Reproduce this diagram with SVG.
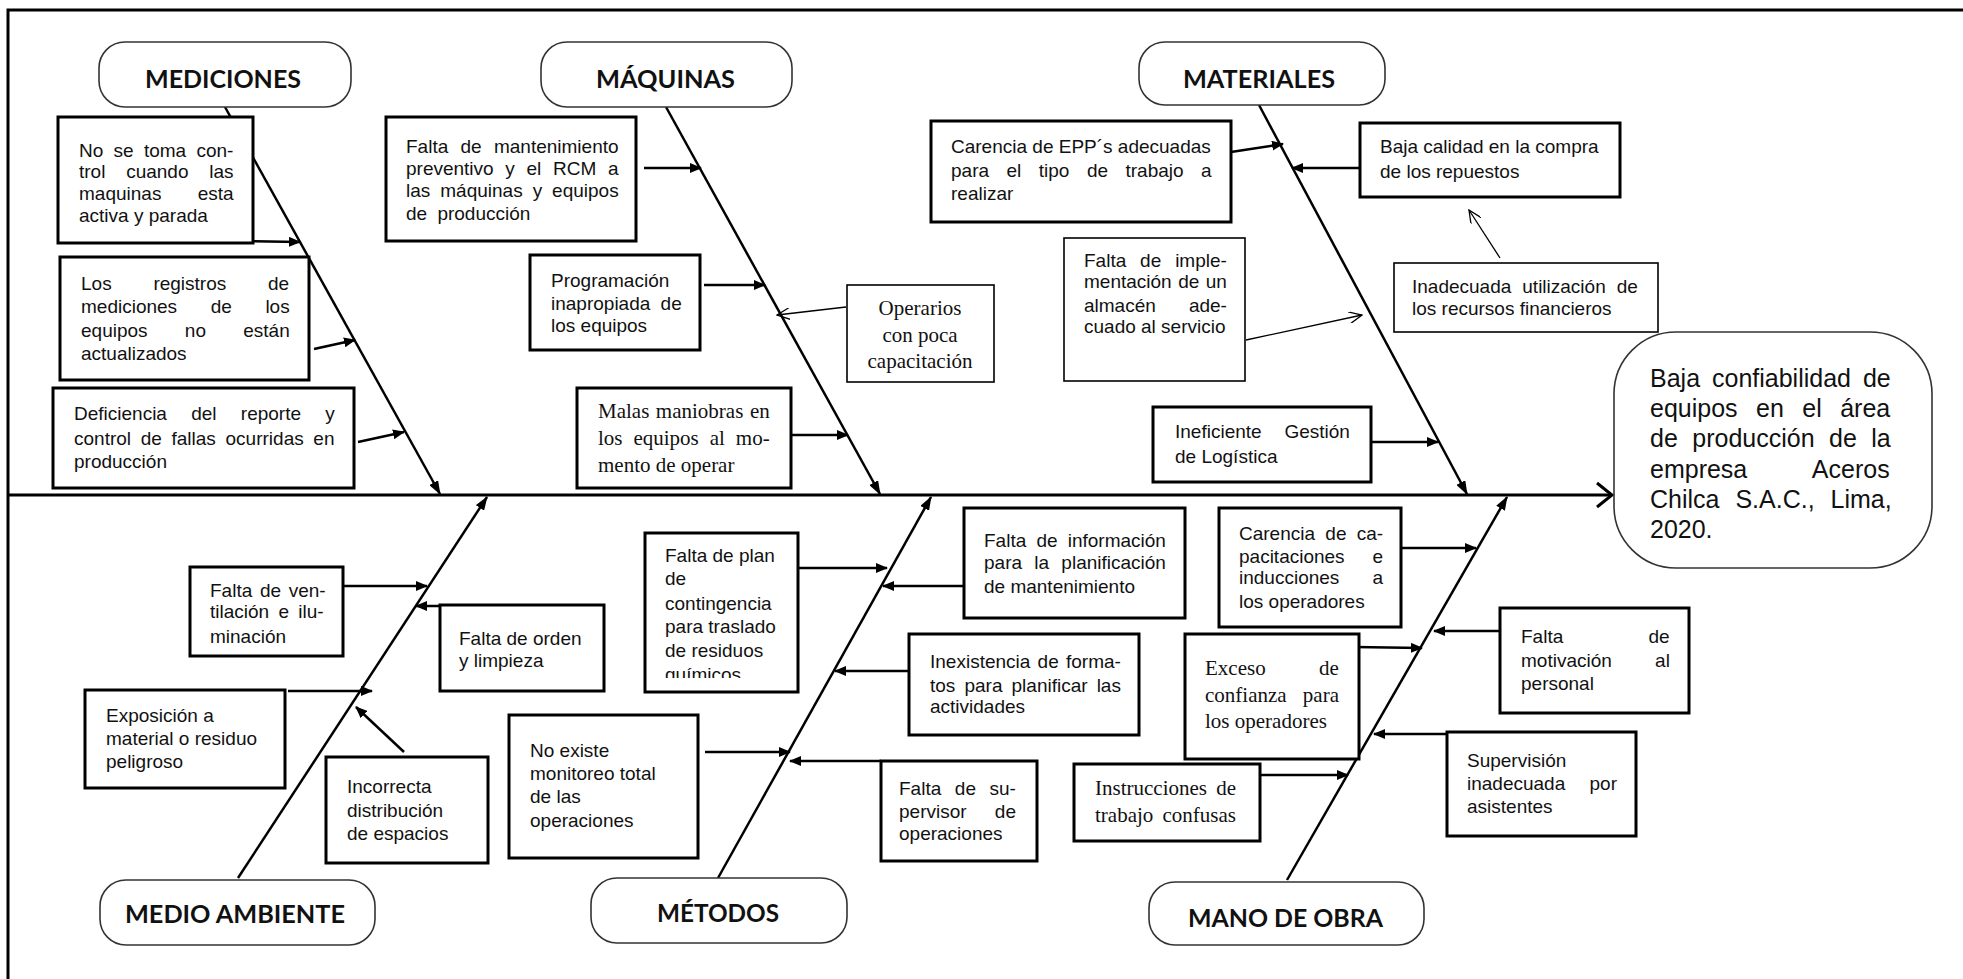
<svg xmlns="http://www.w3.org/2000/svg" width="1963" height="979" viewBox="0 0 1963 979">
<style>
.bg{fill:#fff}
.frame{stroke:#000;stroke-width:3;fill:none}
.cat{fill:#fff;stroke:#333;stroke-width:1.6}
.catt{font-family:Lato,"Liberation Sans",sans-serif;font-weight:bold;font-size:24px;fill:#111}
.box{fill:#fff;stroke:#000;stroke-width:3}
.thin{fill:#fff;stroke:#000;stroke-width:1.6}
.t{font-family:"Liberation Sans",Arial,sans-serif;font-size:19px;fill:#111}
.s{font-family:"Liberation Serif","Times New Roman",serif;font-size:21px;fill:#111}
.h{font-family:"Liberation Sans",Arial,sans-serif;font-size:25px;fill:#111}
.br{stroke:#000;stroke-width:2.5;fill:none;marker-end:url(#ahb)}
.ar{stroke:#000;stroke-width:2.5;fill:none;marker-end:url(#ah)}
.tn{stroke:#000;stroke-width:1.3;fill:none;marker-end:url(#ao)}
</style>
<defs>
<marker id="ahb" viewBox="0 0 14 10" refX="13" refY="5" markerWidth="14" markerHeight="10" markerUnits="userSpaceOnUse" orient="auto"><path d="M0,0 L14,5 L0,10 z" fill="#000"/></marker>
<marker id="ah" viewBox="0 0 12 10" refX="11" refY="5" markerWidth="12" markerHeight="10" markerUnits="userSpaceOnUse" orient="auto"><path d="M0,0 L12,5 L0,10 z" fill="#000"/></marker>
<marker id="ao" viewBox="0 0 14 12" refX="13" refY="6" markerWidth="14" markerHeight="12" markerUnits="userSpaceOnUse" orient="auto"><path d="M0,0 L13,6 L0,12" fill="none" stroke="#000" stroke-width="1.3"/></marker>
<clipPath id="clipMt1"><rect x="645" y="533" width="153" height="145"/></clipPath>
</defs>
<rect class="bg" x="0" y="0" width="1963" height="979"/>
<path class="frame" d="M8,979 L8,10 L1963,10"/>

<g id="connectors">
  <line x1="8" y1="495" x2="1610" y2="495" stroke="#000" stroke-width="3"/>
  <path d="M1597,483 L1612,495 L1597,507" fill="none" stroke="#000" stroke-width="3"/>
  <line class="br" x1="225" y1="107" x2="440" y2="494"/>
  <line class="br" x1="666" y1="107" x2="880" y2="494"/>
  <line class="br" x1="1259" y1="105" x2="1467" y2="494"/>
  <line class="br" x1="238" y1="878" x2="487" y2="497"/>
  <line class="br" x1="718" y1="878" x2="931" y2="497"/>
  <line class="br" x1="1287" y1="880" x2="1507" y2="497"/>
  <line class="ar" x1="238" y1="241" x2="300" y2="242"/>
  <line class="ar" x1="314" y1="349" x2="355" y2="340"/>
  <line class="ar" x1="358" y1="442" x2="404" y2="432"/>
  <line class="ar" x1="644" y1="168" x2="701" y2="168"/>
  <line class="ar" x1="704" y1="285" x2="765" y2="285"/>
  <line class="tn" x1="846" y1="307" x2="777" y2="315"/>
  <line class="ar" x1="792" y1="435" x2="848" y2="435"/>
  <line class="ar" x1="1231" y1="152" x2="1283" y2="144"/>
  <line class="ar" x1="1360" y1="168" x2="1292" y2="168"/>
  <line class="tn" x1="1246" y1="340" x2="1362" y2="315"/>
  <line class="tn" x1="1500" y1="258" x2="1469" y2="210"/>
  <line class="ar" x1="1372" y1="442" x2="1438" y2="442"/>
  <line class="ar" x1="339" y1="586" x2="427" y2="586"/>
  <line class="ar" x1="440" y1="606" x2="416" y2="606"/>
  <line class="ar" x1="288" y1="691" x2="372" y2="691"/>
  <line class="ar" x1="404" y1="752" x2="356" y2="707"/>
  <line class="ar" x1="799" y1="568" x2="887" y2="568"/>
  <line class="ar" x1="963" y1="586" x2="883" y2="586"/>
  <line class="ar" x1="909" y1="671" x2="835" y2="671"/>
  <line class="ar" x1="705" y1="752" x2="790" y2="752"/>
  <line class="ar" x1="881" y1="761" x2="790" y2="761"/>
  <line class="ar" x1="1401" y1="548" x2="1476" y2="548"/>
  <line class="ar" x1="1354" y1="647" x2="1422" y2="648"/>
  <line class="ar" x1="1500" y1="631" x2="1434" y2="631"/>
  <line class="ar" x1="1447" y1="734" x2="1374" y2="734"/>
  <line class="ar" x1="1260" y1="775" x2="1348" y2="775"/>
</g>

<g id="head">
  <rect x="1614" y="332" width="318" height="236" rx="62" ry="62" class="cat"/>
  <text class="h" x="1650" y="387" word-spacing="5">Baja confiabilidad de</text>
  <text class="h" x="1650" y="417" word-spacing="11.5">equipos en el área</text>
  <text class="h" x="1650" y="447" word-spacing="7.5">de producción de la</text>
  <text class="h" x="1650" y="478" word-spacing="59">empresa Aceros</text>
  <text class="h" x="1650" y="508" word-spacing="9">Chilca S.A.C., Lima,</text>
  <text class="h" x="1650" y="538">2020.</text>
</g>

<g id="cat-mediciones">
  <rect class="cat" x="99" y="42" width="252" height="65" rx="26"/>
  <text class="catt" x="145" y="88" textLength="156" lengthAdjust="spacingAndGlyphs">MEDICIONES</text>
</g>
<g id="cat-maquinas">
  <rect class="cat" x="541" y="42" width="251" height="65" rx="26"/>
  <text class="catt" x="596" y="88" textLength="139" lengthAdjust="spacingAndGlyphs">MÁQUINAS</text>
</g>
<g id="cat-materiales">
  <rect class="cat" x="1139" y="42" width="246" height="63" rx="26"/>
  <text class="catt" x="1183" y="88" textLength="152" lengthAdjust="spacingAndGlyphs">MATERIALES</text>
</g>
<g id="cat-medio">
  <rect class="cat" x="100" y="880" width="275" height="65" rx="26"/>
  <text class="catt" x="125" y="923" textLength="220" lengthAdjust="spacingAndGlyphs">MEDIO AMBIENTE</text>
</g>
<g id="cat-metodos">
  <rect class="cat" x="591" y="878" width="256" height="65" rx="26"/>
  <text class="catt" x="657" y="922" textLength="122" lengthAdjust="spacingAndGlyphs">MÉTODOS</text>
</g>
<g id="cat-mano">
  <rect class="cat" x="1149" y="882" width="275" height="63" rx="26"/>
  <text class="catt" x="1188" y="927" textLength="195" lengthAdjust="spacingAndGlyphs">MANO DE OBRA</text>
</g>

<g id="a1">
  <rect class="box" x="58" y="117" width="195" height="126"/>
  <text class="t" x="79" y="157" word-spacing="5">No se toma con-</text>
  <text class="t" x="79" y="178" word-spacing="15.5">trol cuando las</text>
  <text class="t" x="79" y="200" word-spacing="31">maquinas esta</text>
  <text class="t" x="79" y="222">activa y parada</text>
</g>
<g id="a2">
  <rect class="box" x="60" y="257" width="249" height="123"/>
  <text class="t" x="81" y="290" word-spacing="36.5">Los registros de</text>
  <text class="t" x="81" y="313" word-spacing="28.3">mediciones de los</text>
  <text class="t" x="81" y="337" word-spacing="32">equipos no están</text>
  <text class="t" x="81" y="360">actualizados</text>
</g>
<g id="a3">
  <rect class="box" x="53" y="388" width="301" height="100"/>
  <text class="t" x="74" y="420" word-spacing="19">Deficiencia del reporte y</text>
  <text class="t" x="74" y="445" word-spacing="4.4">control de fallas ocurridas en</text>
  <text class="t" x="74" y="468">producción</text>
</g>

<g id="m1">
  <rect class="box" x="386" y="117" width="250" height="124"/>
  <text class="t" x="406" y="153" word-spacing="7">Falta de mantenimiento</text>
  <text class="t" x="406" y="175" word-spacing="6.4">preventivo y el RCM a</text>
  <text class="t" x="406" y="197" word-spacing="4.7">las máquinas y equipos</text>
  <text class="t" x="406" y="220" word-spacing="5">de producción</text>
</g>
<g id="m2">
  <rect class="box" x="530" y="255" width="170" height="95"/>
  <text class="t" x="551" y="287">Programación</text>
  <text class="t" x="551" y="310" word-spacing="5">inapropiada de</text>
  <text class="t" x="551" y="332">los equipos</text>
</g>
<g id="m-operarios">
  <rect class="thin" x="847" y="285" width="147" height="97"/>
  <text class="s" x="920" y="315" text-anchor="middle">Operarios</text>
  <text class="s" x="920" y="342" text-anchor="middle">con poca</text>
  <text class="s" x="920" y="368" text-anchor="middle">capacitación</text>
</g>
<g id="m3">
  <rect class="box" x="577" y="388" width="214" height="100"/>
  <text class="s" x="598" y="418" word-spacing="1.3">Malas maniobras en</text>
  <text class="s" x="598" y="445" word-spacing="5.7">los equipos al mo-</text>
  <text class="s" x="598" y="472">mento de operar</text>
</g>

<g id="t1">
  <rect class="box" x="931" y="121" width="300" height="101"/>
  <text class="t" x="951" y="153">Carencia de EPP´s adecuadas</text>
  <text class="t" x="951" y="177" word-spacing="12.2">para el tipo de trabajo a</text>
  <text class="t" x="951" y="200">realizar</text>
</g>
<g id="t2">
  <rect class="thin" x="1064" y="238" width="181" height="143"/>
  <text class="t" x="1084" y="267" word-spacing="8.6">Falta de imple-</text>
  <text class="t" x="1084" y="288" word-spacing="1.2">mentación de un</text>
  <text class="t" x="1084" y="312" word-spacing="27.8">almacén ade-</text>
  <text class="t" x="1084" y="333">cuado al servicio</text>
</g>
<g id="t3">
  <rect class="box" x="1153" y="407" width="218" height="75"/>
  <text class="t" x="1175" y="438" word-spacing="17.5">Ineficiente Gestión</text>
  <text class="t" x="1175" y="463">de Logística</text>
</g>
<g id="t4">
  <rect class="box" x="1360" y="123" width="260" height="74"/>
  <text class="t" x="1380" y="153">Baja calidad en la compra</text>
  <text class="t" x="1380" y="178">de los repuestos</text>
</g>
<g id="t5">
  <rect class="thin" x="1394" y="263" width="264" height="69"/>
  <text class="t" x="1412" y="293" word-spacing="5.7">Inadecuada utilización de</text>
  <text class="t" x="1412" y="315">los recursos financieros</text>
</g>

<g id="e1">
  <rect class="box" x="190" y="567" width="153" height="89"/>
  <text class="t" x="210" y="597" word-spacing="2.4">Falta de ven-</text>
  <text class="t" x="210" y="618" word-spacing="4">tilación e ilu-</text>
  <text class="t" x="210" y="643">minación</text>
</g>
<g id="e2">
  <rect class="box" x="440" y="605" width="164" height="86"/>
  <text class="t" x="459" y="645">Falta de orden</text>
  <text class="t" x="459" y="667">y limpieza</text>
</g>
<g id="e3">
  <rect class="box" x="85" y="690" width="200" height="98"/>
  <text class="t" x="106" y="722">Exposición a</text>
  <text class="t" x="106" y="745">material o residuo</text>
  <text class="t" x="106" y="768">peligroso</text>
</g>
<g id="e4">
  <rect class="box" x="326" y="757" width="162" height="106"/>
  <text class="t" x="347" y="793">Incorrecta</text>
  <text class="t" x="347" y="817">distribución</text>
  <text class="t" x="347" y="840">de espacios</text>
</g>

<g id="n1">
  <rect class="box" x="509" y="715" width="189" height="143"/>
  <text class="t" x="530" y="757">No existe</text>
  <text class="t" x="530" y="780">monitoreo total</text>
  <text class="t" x="530" y="803">de las</text>
  <text class="t" x="530" y="827">operaciones</text>
</g>
<g id="mt1">
  <rect class="box" x="645" y="533" width="153" height="159"/>
  <g clip-path="url(#clipMt1)">
    <text class="t" x="665" y="562">Falta de plan</text>
    <text class="t" x="665" y="585">de</text>
    <text class="t" x="665" y="610">contingencia</text>
    <text class="t" x="665" y="633">para traslado</text>
    <text class="t" x="665" y="657">de residuos</text>
    <text class="t" x="665" y="681">químicos</text>
  </g>
</g>
<g id="mt2">
  <rect class="box" x="964" y="508" width="221" height="110"/>
  <text class="t" x="984" y="547" word-spacing="4.9">Falta de información</text>
  <text class="t" x="984" y="569" word-spacing="7">para la planificación</text>
  <text class="t" x="984" y="593">de mantenimiento</text>
</g>
<g id="mt3">
  <rect class="box" x="909" y="634" width="230" height="101"/>
  <text class="t" x="930" y="668" word-spacing="2">Inexistencia de forma-</text>
  <text class="t" x="930" y="692" word-spacing="3.8">tos para planificar las</text>
  <text class="t" x="930" y="713">actividades</text>
</g>
<g id="mt4">
  <rect class="box" x="881" y="761" width="156" height="100"/>
  <text class="t" x="899" y="795" word-spacing="8.3">Falta de su-</text>
  <text class="t" x="899" y="818" word-spacing="23">pervisor de</text>
  <text class="t" x="899" y="840">operaciones</text>
</g>

<g id="w1">
  <rect class="box" x="1074" y="764" width="186" height="77"/>
  <text class="s" x="1095" y="795" word-spacing="4">Instrucciones de</text>
  <text class="s" x="1095" y="822" word-spacing="4">trabajo confusas</text>
</g>
<g id="w2">
  <rect class="box" x="1219" y="508" width="182" height="119"/>
  <text class="t" x="1239" y="540" word-spacing="5">Carencia de ca-</text>
  <text class="t" x="1239" y="563" word-spacing="22.5">pacitaciones e</text>
  <text class="t" x="1239" y="584" word-spacing="27.8">inducciones a</text>
  <text class="t" x="1239" y="608">los operadores</text>
</g>
<g id="w3">
  <rect class="box" x="1185" y="634" width="174" height="125"/>
  <text class="s" x="1205" y="675" word-spacing="48">Exceso de</text>
  <text class="s" x="1205" y="702" word-spacing="11">confianza para</text>
  <text class="s" x="1205" y="728">los operadores</text>
</g>
<g id="w4">
  <rect class="box" x="1500" y="608" width="189" height="105"/>
  <text class="t" x="1521" y="643" word-spacing="80">Falta de</text>
  <text class="t" x="1521" y="667" word-spacing="38">motivación al</text>
  <text class="t" x="1521" y="690">personal</text>
</g>
<g id="w5">
  <rect class="box" x="1447" y="732" width="189" height="104"/>
  <text class="t" x="1467" y="767">Supervisión</text>
  <text class="t" x="1467" y="790" word-spacing="19">inadecuada por</text>
  <text class="t" x="1467" y="813">asistentes</text>
</g>
</svg>
